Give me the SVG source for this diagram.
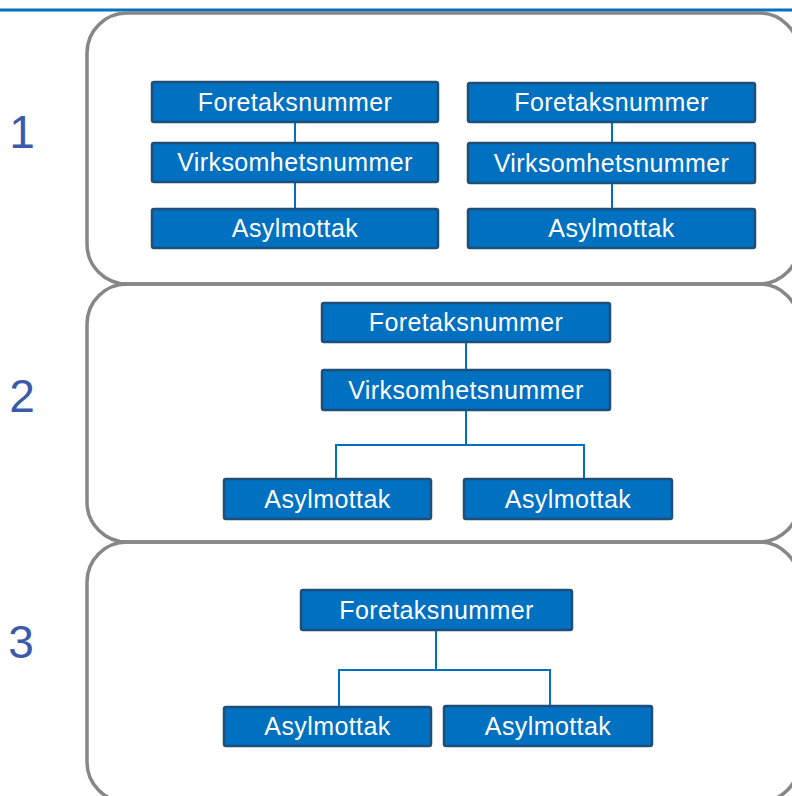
<svg xmlns="http://www.w3.org/2000/svg" width="792" height="796" viewBox="0 0 792 796">
<style>
.panel{fill:none;stroke:#878787;stroke-width:3.5}
.num{font-family:"Liberation Sans",Arial,sans-serif;font-size:46px;fill:#3a5bab;text-anchor:middle}
.box rect{fill:#0070c0;stroke:#1f4e79;stroke-width:2.5}
.box text{font-family:"Liberation Sans",Arial,sans-serif;font-size:25px;letter-spacing:0.4px;fill:#ffffff;text-anchor:middle}
.conn{fill:none;stroke:#0070c0;stroke-width:2}
</style>
<rect x="0" y="0" width="792" height="796" fill="#ffffff"/>
<line x1="0" y1="10" x2="792" y2="10" stroke="#0070c0" stroke-width="3"/>
<g id="panels">
<rect class="panel" x="87" y="13" width="712" height="271" rx="40"/>
<rect class="panel" x="87" y="284" width="712" height="258" rx="40"/>
<rect class="panel" x="87" y="542" width="712" height="260" rx="40"/>
</g>
<g id="labels">
<text class="num" x="22" y="148">1</text>
<text class="num" x="22" y="412">2</text>
<text class="num" x="21" y="658">3</text>
</g>
<g id="connectors">
<line class="conn" x1="295" y1="122" x2="295" y2="143"/>
<line class="conn" x1="295" y1="182" x2="295" y2="209"/>
<line class="conn" x1="612" y1="122" x2="612" y2="143"/>
<line class="conn" x1="612" y1="183" x2="612" y2="209"/>
<line class="conn" x1="466" y1="342" x2="466" y2="370"/>
<polyline class="conn" points="466,410 466,445 336,445 336,479"/>
<polyline class="conn" points="466,445 584,445 584,479"/>
<polyline class="conn" points="436,630 436,670 339,670 339,707"/>
<polyline class="conn" points="436,670 550,670 550,706"/>
</g>
<g id="p1-foretak-a" class="box"><rect x="152" y="82" width="286" height="40" rx="2"/><text x="295" y="111">Foretaksnummer</text></g>
<g id="p1-virk-a" class="box"><rect x="152" y="143" width="286" height="39" rx="2"/><text x="295" y="171">Virksomhetsnummer</text></g>
<g id="p1-asyl-a" class="box"><rect x="152" y="209" width="286" height="39" rx="2"/><text x="295" y="237">Asylmottak</text></g>
<g id="p1-foretak-b" class="box"><rect x="468" y="83" width="287" height="39" rx="2"/><text x="611.5" y="111">Foretaksnummer</text></g>
<g id="p1-virk-b" class="box"><rect x="468" y="143" width="287" height="40" rx="2"/><text x="611.5" y="172">Virksomhetsnummer</text></g>
<g id="p1-asyl-b" class="box"><rect x="468" y="209" width="287" height="39" rx="2"/><text x="611.5" y="237">Asylmottak</text></g>
<g id="p2-foretak" class="box"><rect x="322" y="303" width="288" height="39" rx="2"/><text x="466" y="331">Foretaksnummer</text></g>
<g id="p2-virk" class="box"><rect x="322" y="370" width="288" height="40" rx="2"/><text x="466" y="399">Virksomhetsnummer</text></g>
<g id="p2-asyl-a" class="box"><rect x="224" y="479" width="207" height="40" rx="2"/><text x="327.5" y="508">Asylmottak</text></g>
<g id="p2-asyl-b" class="box"><rect x="464" y="479" width="208" height="40" rx="2"/><text x="568" y="508">Asylmottak</text></g>
<g id="p3-foretak" class="box"><rect x="301" y="590" width="271" height="40" rx="2"/><text x="436.5" y="619">Foretaksnummer</text></g>
<g id="p3-asyl-a" class="box"><rect x="224" y="707" width="207" height="39" rx="2"/><text x="327.5" y="735">Asylmottak</text></g>
<g id="p3-asyl-b" class="box"><rect x="444" y="706" width="208" height="40" rx="2"/><text x="548" y="735">Asylmottak</text></g>
</svg>
